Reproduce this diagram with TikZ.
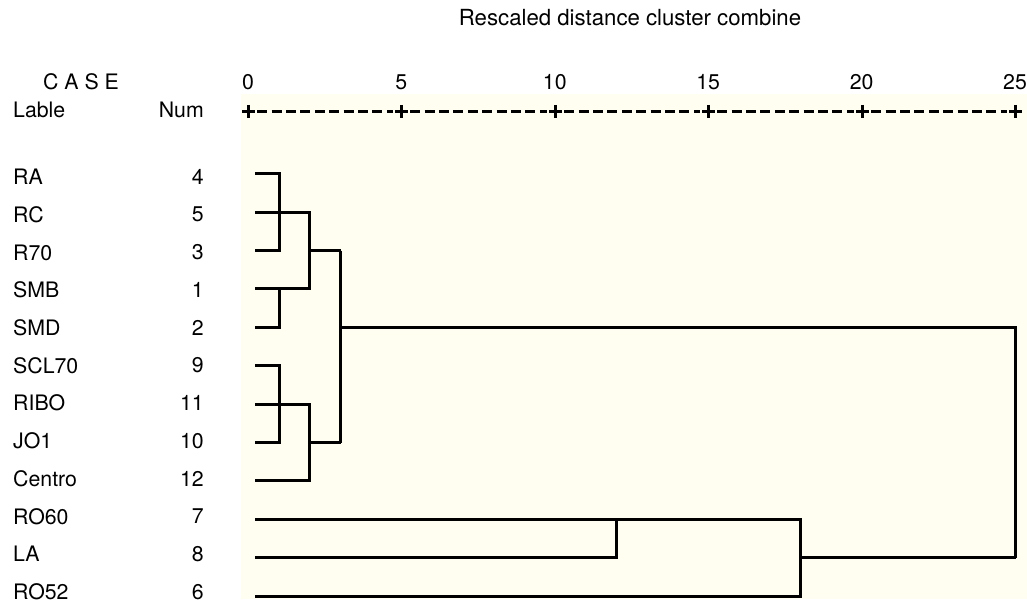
\documentclass[tikz,border=0pt]{standalone}
\usepackage{fontspec}
\setmainfont{TeX Gyre Heros}
\definecolor{paper}{RGB}{255,254,241}
\begin{document}
\begin{tikzpicture}[
  x=1pt, y=-1pt,
  txt/.style={inner sep=0pt, font=\fontsize{21.3}{25}\selectfont},
  labelcol/.style={txt, anchor=west},
  numcol/.style={txt, anchor=east},
  tickmark/.style={inner sep=0pt, minimum size=13pt},
  link/.style={line width=3pt},
  rule/.style={line width=3pt, dash pattern=on 10pt off 4.4pt, shorten <=2pt, shorten >=2pt}
]
\useasboundingbox (0,0) rectangle (1027,604);
\fill[paper] (241,94) rectangle (1027,599);

\node[txt, font=\fontsize{22.2}{26}\selectfont] (title) at (630,18) {Rescaled distance cluster combine};
\node[txt] (casehead) at (81,82) {C A S E};
\node[labelcol] (lablehead) at (13,110) {Lable};
\node[numcol] (numhead) at (204,110) {Num};

\foreach \k in {0,5,...,25} {
  \node[tickmark] (t\k) at ({round(248+30.68*\k)+0.5},111.5) {};
  \draw[link] (t\k.west) -- (t\k.east) (t\k.north) -- (t\k.south);
  \node[txt] (n\k) at (248+30.68*\k,82) {\k};
}
\foreach \a/\b in {0/5,5/10,10/15,15/20,20/25}
  \draw[rule] (t\a) -- (t\b);

\foreach \lab/\num [count=\i from 0] in {RA/4, RC/5, R70/3, SMB/1, SMD/2, SCL70/9, RIBO/11, JO1/10, Centro/12, RO60/7, LA/8, RO52/6} {
  \node[labelcol] (lab\num) at (13,177+37.7*\i) {\lab};
  \node[numcol] (num\num) at (204,177+37.7*\i) {\num};
  \coordinate (leaf\num) at (255,{round(173.3+38.4*\i)+0.5});
}
\foreach \k in {1,2,3,12,18,25}
  \coordinate (d\k) at ({round(248+30.68*\k)+0.5},0);

\draw[link] (leaf4) -- (leaf4 -| d1) -- (leaf3 -| d1) -- (leaf3);
\draw[link] (leaf5) -- (leaf5 -| d2) -- (leaf1 -| d2) -- (leaf1 -| d1);
\draw[link] (leaf1) -- (leaf1 -| d1) -- (leaf2 -| d1) -- (leaf2);
\draw[link] (leaf3 -| d2) -- (leaf3 -| d3);
\draw[link] (leaf9) -- (leaf9 -| d1) -- (leaf10 -| d1) -- (leaf10);
\draw[link] (leaf11) -- (leaf11 -| d2) -- (leaf12 -| d2) -- (leaf12);
\draw[link] (leaf10 -| d2) -- (leaf10 -| d3);
\draw[link] (leaf3 -| d3) -- (leaf10 -| d3);
\draw[link] (leaf2 -| d3) -- (leaf2 -| d25) -- (leaf8 -| d25);
\draw[link] (leaf7) -- (leaf7 -| d18) -- (leaf6 -| d18) -- (leaf6);
\draw[link] (leaf7 -| d12) -- (leaf8 -| d12) -- (leaf8);
\draw[link] (leaf8 -| d18) -- (leaf8 -| d25);
\end{tikzpicture}
\end{document}
